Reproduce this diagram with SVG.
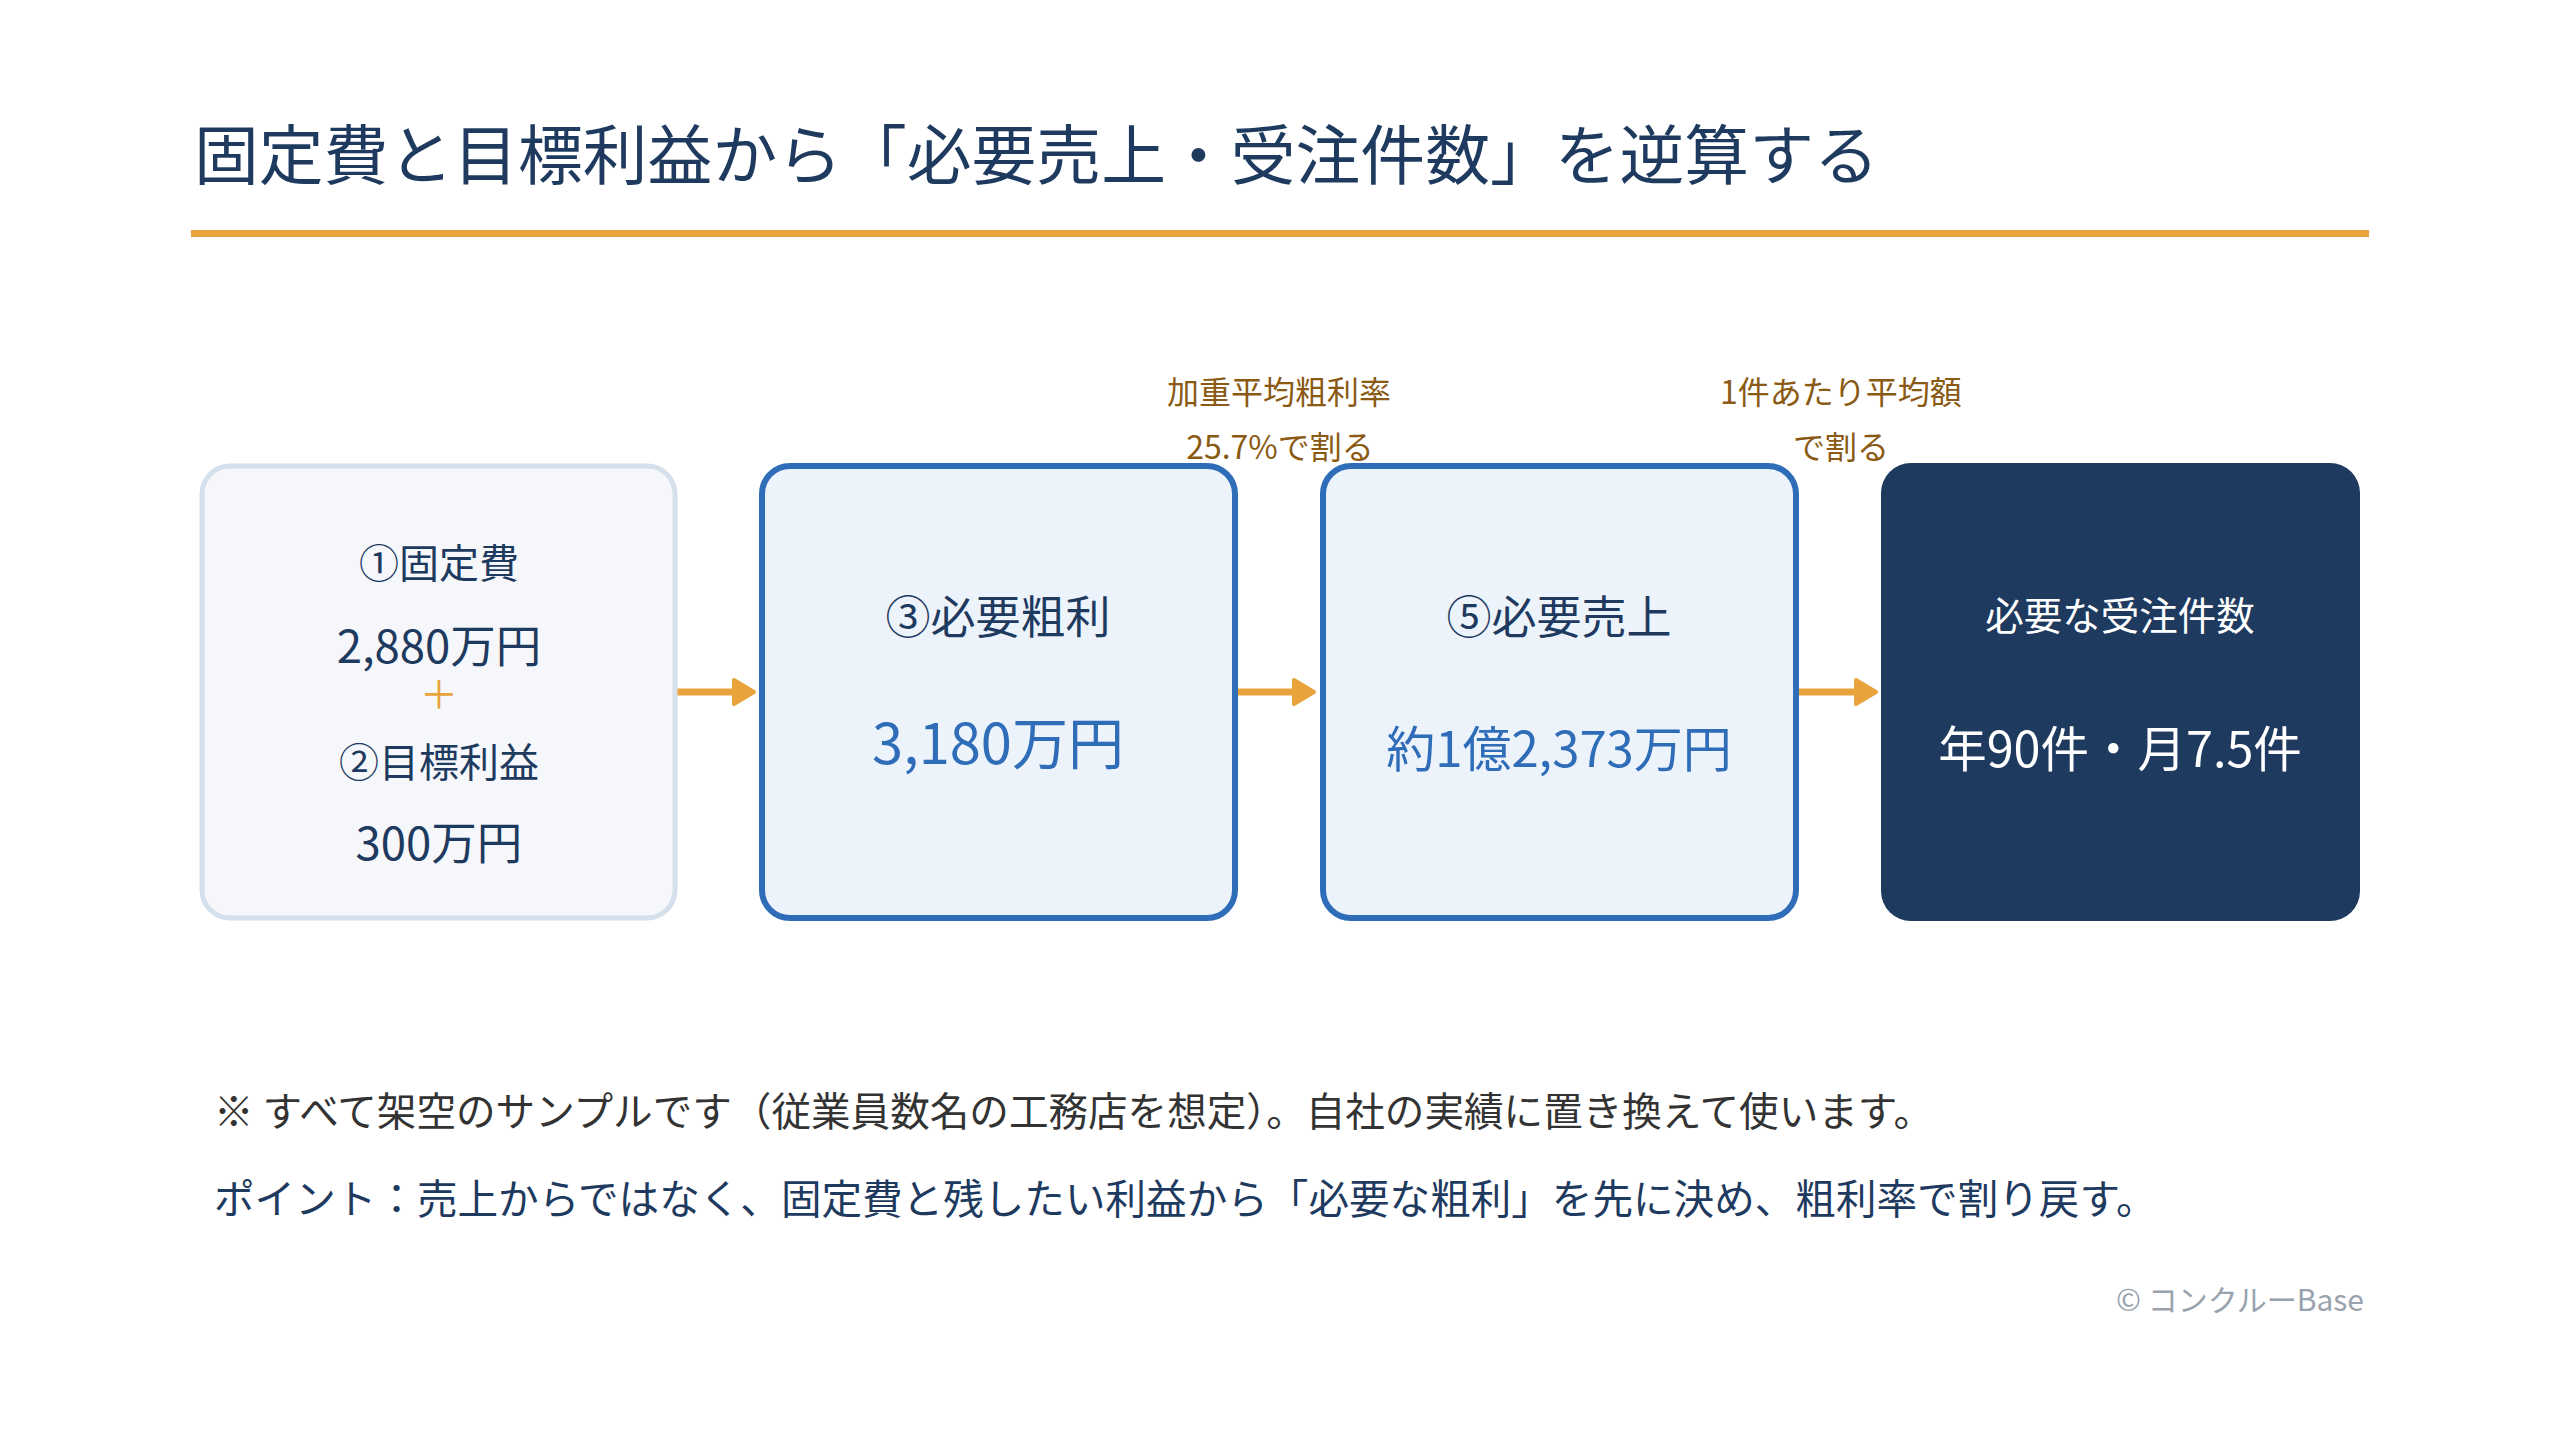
<svg xmlns="http://www.w3.org/2000/svg" width="2560" height="1440" viewBox="0 0 2560 1440">
  <style>
    text { font-family: "Noto Sans CJK JP", "Noto Sans", sans-serif; }
    .title { font-size: 64.8px; fill: #1e3a5f; }
    .lbl { font-size: 40px; fill: #1e3a5f; text-anchor: middle; }
    .lbl2 { font-size: 45px; fill: #1e3a5f; text-anchor: middle; }
    .val { font-size: 45.5px; fill: #1e3a5f; text-anchor: middle; }
    .bval { fill: #2f6db8; text-anchor: middle; }
    .wt { fill: #ffffff; text-anchor: middle; }
    .edge { font-size: 32px; fill: #8a5a14; text-anchor: middle; }
    .box-in { fill: #f5f7fa; stroke: #d6e0ec; stroke-width: 5; }
    .box-mid { fill: #edf3fb; stroke: #2f6db8; stroke-width: 6; }
    .box-out { fill: #1e3a5f; }
    .conn { stroke: #e8a33d; stroke-width: 7; fill: none; stroke-linecap: round; }
  </style>
  <defs>
    <marker id="ah" markerUnits="userSpaceOnUse" markerWidth="26" markerHeight="30" refX="2" refY="15" orient="auto">
      <path d="M3,3 L23,15 L3,27 Z" fill="#e8a33d" stroke="#e8a33d" stroke-width="4" stroke-linejoin="round"/>
    </marker>
  </defs>
  <rect x="0" y="0" width="2560" height="1440" fill="#ffffff"/>

  <g id="title">
    <text class="title" x="194" y="179">固定費と目標利益から「必要売上・受注件数」を逆算する</text>
    <rect x="191" y="230" width="2178" height="7" fill="#e8a33d"/>
  </g>

  <g id="connectors">
    <line class="conn" x1="678" y1="692" x2="733" y2="692" marker-end="url(#ah)"/>
    <line class="conn" x1="1238" y1="692" x2="1293" y2="692" marker-end="url(#ah)"/>
    <line class="conn" x1="1798" y1="692" x2="1855" y2="692" marker-end="url(#ah)"/>
    <text class="edge" x="1279" y="404">加重平均粗利率</text>
    <text class="edge" x="1280" y="459">25.7%で割る</text>
    <text class="edge" x="1841" y="404">1件あたり平均額</text>
    <text class="edge" x="1841" y="459">で割る</text>
  </g>

  <g id="node1">
    <rect class="box-in" x="202" y="466" width="473" height="452" rx="28"/>
    <text class="lbl" x="439" y="578">①固定費</text>
    <text class="val" x="439" y="663">2,880万円</text>
    <text x="439" y="708" font-size="38" fill="#e8a33d" text-anchor="middle">＋</text>
    <text class="lbl" x="439" y="777">②目標利益</text>
    <text class="val" x="439" y="860">300万円</text>
  </g>

  <g id="node2">
    <rect class="box-mid" x="762" y="466" width="473" height="452" rx="28"/>
    <text class="lbl2" x="998" y="634">③必要粗利</text>
    <text class="bval" x="998" y="764" font-size="56">3,180万円</text>
  </g>

  <g id="node3">
    <rect class="box-mid" x="1323" y="466" width="473" height="452" rx="28"/>
    <text class="lbl2" x="1559" y="634">⑤必要売上</text>
    <text class="bval" x="1559" y="767" font-size="49">約1億2,373万円</text>
  </g>

  <g id="node4">
    <rect class="box-out" x="1881" y="463" width="479" height="458" rx="30"/>
    <text class="wt" x="2120" y="630" font-size="38.5">必要な受注件数</text>
    <text class="wt" x="2120" y="767" font-size="48.5">年90件・月7.5件</text>
  </g>

  <g id="notes">
    <text x="214" y="1126" font-size="39.6" fill="#333333">※ すべて架空のサンプルです（従業員数名の工務店を想定）。自社の実績に置き換えて使います。</text>
    <text x="214" y="1214" font-size="40.6" fill="#1e3a5f">ポイント：売上からではなく、固定費と残したい利益から「必要な粗利」を先に決め、粗利率で割り戻す。</text>
    <text x="2364" y="1311" font-size="30" fill="#9aa3ad" text-anchor="end">© コンクルーBase</text>
  </g>
</svg>
